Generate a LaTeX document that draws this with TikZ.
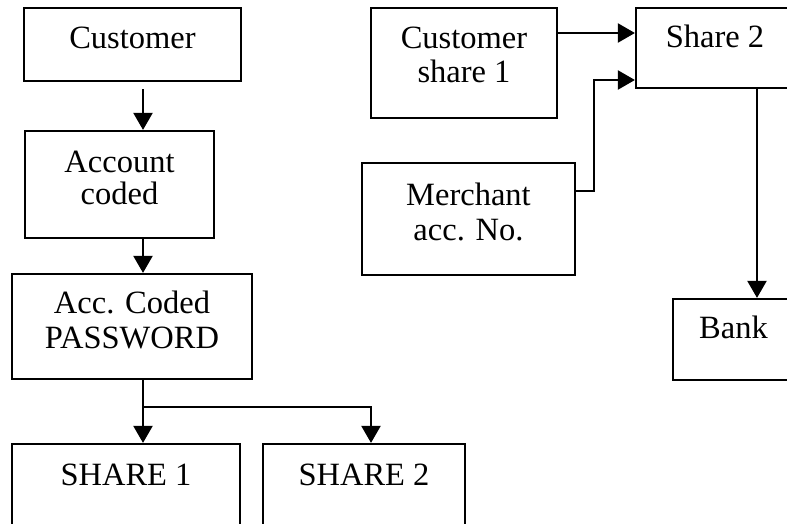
\documentclass[tikz,border=0pt]{standalone}
\usepackage{fontspec}
\setmainfont{Liberation Serif}
\usetikzlibrary{arrows.meta}

\tikzset{
  box/.style={draw, line width=2.2pt, rectangle, inner sep=0pt},
  lbl/.style={anchor=north, inner sep=0pt, align=center, font=\fontsize{32.5}{35}\selectfont},
  arr/.style={line width=2.2pt, -{Triangle[length=17pt,width=19pt]}}
}

\begin{document}
\begin{tikzpicture}[x=1pt, y=-1pt]
  \useasboundingbox (0,0) rectangle (787,524);

  % left column
  \node[box, minimum width=217pt, minimum height=73pt] (cust) at (132.5,44.5) {};
  \node[lbl] (custtxt) at ([yshift=-20pt]cust.north) {Customer};

  \node[box, minimum width=189pt, minimum height=107pt] (acct) at (119.5,184.5) {};
  \node[lbl] (accttxt) at ([yshift=-21pt]acct.north) {Account\\[-3pt]coded};

  \node[box, minimum width=240pt, minimum height=105pt] (pass) at (132,326.5) {};
  \node[lbl] (passtxt) at ([yshift=-18pt]pass.north) {Acc. Coded\\PASSWORD};

  \node[box, minimum width=228pt, minimum height=96pt] (shA) at (126,492) {};
  \node[lbl] (shAtxt) at ([yshift=-21pt]shA.north) {SHARE 1};

  \node[box, minimum width=202pt, minimum height=96pt] (shB) at (364,492) {};
  \node[lbl] (shBtxt) at ([yshift=-21pt]shB.north) {SHARE 2};

  % right part
  \node[box, minimum width=186pt, minimum height=110pt] (cshare) at (464,63) {};
  \node[lbl] (csharetxt) at ([yshift=-20pt]cshare.north) {Customer\\[-1pt]share 1};

  \node[box, minimum width=213pt, minimum height=112pt] (merch) at (468.5,219) {};
  \node[lbl] (merchtxt) at ([yshift=-21pt]merch.north) {Merchant\\acc. No.};

  \node[box, minimum width=158pt, minimum height=80pt] (sh2) at (715,48) {};
  \node[lbl] (sh2txt) at ([yshift=-18pt]sh2.north) {Share 2};

  \node[box, minimum width=121pt, minimum height=81pt] (bank) at (733.5,339.5) {};
  \node[lbl] (banktxt) at ([yshift=-18pt]bank.north) {Bank};

  % connectors
  \coordinate (spine) at (143,0);
  \coordinate (fork) at (143,407);
  \coordinate (forkR) at (371,407);
  \coordinate (toprow) at (0,33);
  \coordinate (bend) at (594,80);
  \coordinate (drop) at (757,0);

  \draw[arr, shorten <=7pt] (cust.south -| spine) -- (acct.north -| spine);
  \draw[arr] (acct.south -| spine) -- (pass.north -| spine);
  \draw[arr] (pass.south -| spine) -- (shA.north -| spine);
  \draw[arr] (fork) -- (forkR) -- (shB.north -| forkR);

  \draw[arr] (cshare.east |- toprow) -- (sh2.west |- toprow);
  \draw[arr] ([yshift=28pt]merch.east) -| (bend) -- (sh2.west |- bend);
  \draw[arr] (sh2.south -| drop) -- (bank.north -| drop);
\end{tikzpicture}
\end{document}
